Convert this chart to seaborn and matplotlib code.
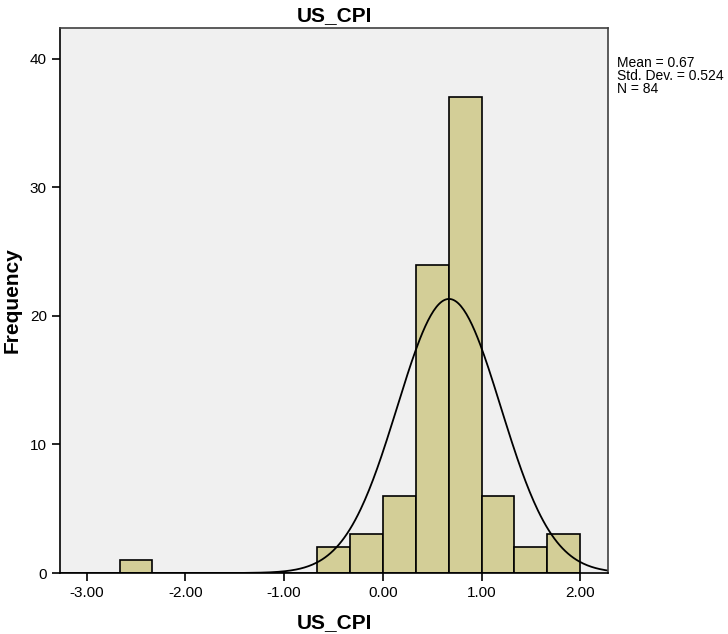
import matplotlib
matplotlib.use("Agg")
import matplotlib.pyplot as plt
import numpy as np
import pandas as pd
import seaborn as sns

# histogram bins (edges) and counts
BIN_EDGES = [-2.6667, -2.3333, -2.0, -1.6667, -1.3333, -1.0, -0.6667, -0.3333,
             0.0, 0.3333, 0.6667, 1.0, 1.3333, 1.6667, 2.0]
COUNTS = [1, 0, 0, 0, 0, 0, 2, 3, 6, 24, 37, 6, 2, 3]

MEAN = 0.67
STD = 0.524
N = 84

X_TICKS = [-3.0, -2.0, -1.0, 0.0, 1.0, 2.0]
Y_TICKS = [0, 10, 20, 30, 40]

sns.set_style("ticks")
plt.rcParams["font.family"] = ["Liberation Sans", "DejaVu Sans"]
plt.rcParams["text.color"] = "black"
plt.rcParams["axes.labelcolor"] = "black"
plt.rcParams["xtick.color"] = "black"
plt.rcParams["ytick.color"] = "black"

edges = np.array(BIN_EDGES)
centers = (edges[:-1] + edges[1:]) / 2
df = pd.DataFrame({"US_CPI": centers, "count": COUNTS})

fig = plt.figure(figsize=(7.28, 6.34), dpi=100)
ax = fig.add_axes([0.0824, 0.0962, 0.7527, 0.8596])
ax.set_facecolor("#F0F0F0")

sns.histplot(data=df, x="US_CPI", weights="count", bins=list(BIN_EDGES), ax=ax,
             color="#D3CE97", alpha=1, edgecolor="black", linewidth=1.2)

# fitted normal curve, scaled to frequency
width = edges[1] - edges[0]
xs = np.linspace(-3.27, 2.28, 400)
ys = N * width / (STD * np.sqrt(2 * np.pi)) * np.exp(-0.5 * ((xs - MEAN) / STD) ** 2)
sns.lineplot(x=xs, y=ys, ax=ax, color="black", linewidth=1.3)

ax.set_xlim(-3.27, 2.28)
ax.set_ylim(0, 42.4)
ax.set_xticks(X_TICKS)
ax.set_xticklabels([f"{t:.2f}" for t in X_TICKS])
ax.set_yticks(Y_TICKS)
ax.tick_params(axis="both", direction="out", length=6, width=1.2,
               labelsize=11, color="black", labelcolor="black")
for side in ["left", "bottom", "top", "right"]:
    ax.spines[side].set_visible(True)
    ax.spines[side].set_linewidth(1.2)
    ax.spines[side].set_color("black")
ax.spines["top"].set_color("#404040")
ax.spines["right"].set_color("#404040")

ax.set_xlabel("US_CPI", fontsize=15, fontweight="bold", labelpad=9)
ax.set_ylabel("Frequency", fontsize=15, fontweight="bold", labelpad=6)
ax.set_title("US_CPI", fontsize=15, fontweight="bold", pad=5)

fig.text(0.848, 0.912, f"Mean = {MEAN:.2f}\nStd. Dev. = {STD:.3f}\nN = {N}",
         fontsize=10, va="top", ha="left", linespacing=0.9)

fig.savefig("out.png", dpi=100)
